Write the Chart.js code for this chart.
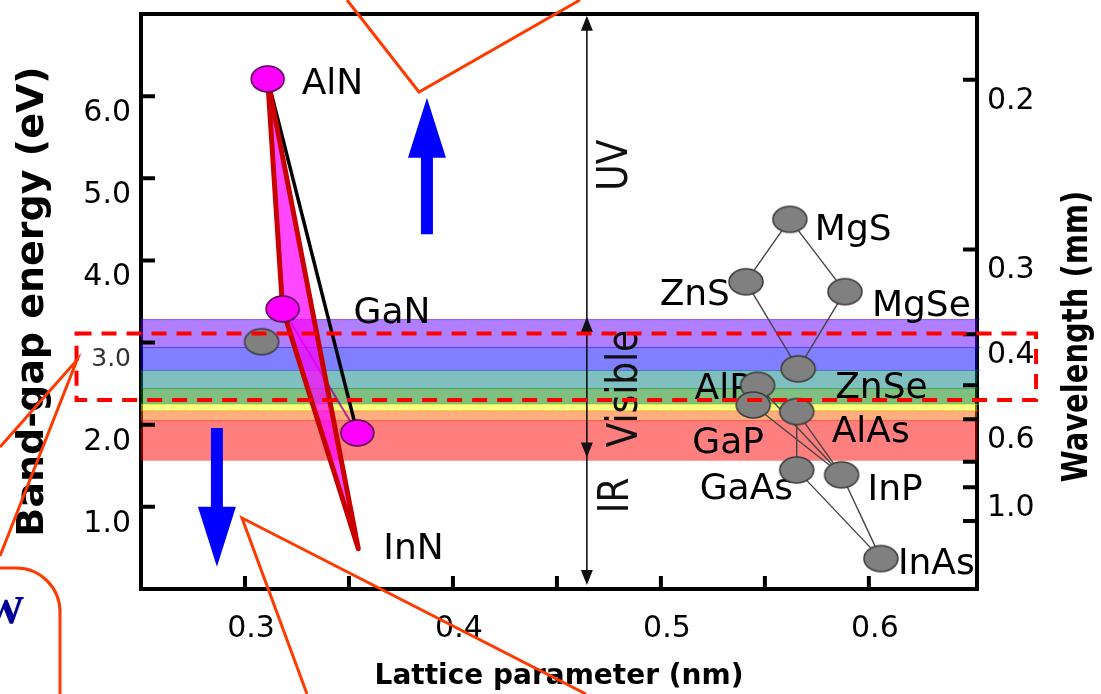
<!DOCTYPE html>
<html>
<head>
<meta charset="utf-8">
<script src="https://cdn.jsdelivr.net/npm/chart.js@4.4.0/dist/chart.umd.min.js"></script>
<style>
  html, body { margin: 0; padding: 0; background: #fff; }
  canvas { display: block; }
</style>
</head>
<body>
<canvas id="gapChart" width="1101" height="694"></canvas>
<script>
// ---- data ----
const nitrideNames = ['AlN', 'GaN', 'InN'];
const nitrideLattice = [0.3109, 0.3181, 0.3540];
const nitrideGap = [6.21, 3.41, 1.90];
// revised InN gap, where the red lines end
const inNLattice = 0.3545;
const inNGap = 0.49;

const compoundNames = ['MgS', 'ZnS', 'MgSe', 'ZnSe', 'AlP', 'GaP', 'AlAs', 'GaAs', 'InP', 'InAs'];
const compoundLattice = [0.5620, 0.5409, 0.5885, 0.5660, 0.5465, 0.5444, 0.5653, 0.5653, 0.5869, 0.6058];
const compoundGap = [4.50, 3.74, 3.62, 2.68, 2.48, 2.24, 2.16, 1.45, 1.39, 0.37];

// unlabelled grey point next to GaN
const sicLattice = [0.3080];
const sicGap = [3.01];

const alloyLinks = [
  ['MgS', 'ZnS'], ['MgS', 'MgSe'], ['ZnS', 'ZnSe'], ['MgSe', 'ZnSe'],
  ['AlP', 'InP'], ['GaP', 'InP'], ['AlAs', 'InP'], ['AlAs', 'GaAs'],
  ['GaAs', 'InAs'], ['InP', 'InAs']
];

// visible spectrum bands (eV)
const bandTop = [3.28, 2.94, 2.66, 2.44, 2.25, 2.17, 2.05];
const bandBottom = [2.94, 2.66, 2.44, 2.25, 2.17, 2.05, 1.56];
const bandColors = ['96,0,255', '0,0,255', '0,128,128', '0,128,0', '255,255,0', '255,96,0', '255,0,0'];

// axes
const latticeTicks = [0.3, 0.35, 0.4, 0.45, 0.5, 0.55, 0.6];
const latticeLabels = [0.3, 0.4, 0.5, 0.6];
const energyTicks = [1, 2, 3, 4, 5, 6];
const wavelengthTicks = [0.2, 0.3, 0.4, 0.5, 0.6, 0.8, 1.0, 1.5];
const wavelengthLabels = [0.2, 0.3, 0.4, 0.6, 1.0];

// ---- placement / style ----
const FONT = 'DejaVu Sans';
const X_MIN = 0.25, X_MAX = 0.652;

// [dx px, dy px, align] of each name from its point
const labelPlace = {
  AlN: [34, 6, 'left'], GaN: [71, 5, 'left'], InN: [25, 1, 'left'],
  MgS: [25, 11, 'left'], ZnS: [-16, 14, 'right'], MgSe: [27, 15, 'left'], ZnSe: [37, 20, 'left'],
  AlP: [-63, 4, 'left'], GaP: [-61, 39, 'left'], AlAs: [35, 21, 'left'], GaAs: [-97, 20, 'left'],
  InP: [26, 16, 'left'], InAs: [17, 6, 'left']
};

const rangeArrowX = 0.4644;
const rangeNames = ['UV', 'Visible', 'IR'];
const rangeTextE = [5.16, 2.44, 1.14];
const rangeTextDx = [29, 39, 30];

const blueArrows = [
  { x: 0.3875, from: 4.32, to: 5.98 },
  { x: 0.2865, from: 1.96, to: 0.27 }
];

const dashBox = { x0: 0.219, x1: 0.6804, top: 3.11, bottom: 2.30 };

function ellipseMarker(fill, stroke, w, h) {
  const c = document.createElement('canvas');
  c.width = w + 4; c.height = h + 4;
  const g = c.getContext('2d');
  g.beginPath();
  g.ellipse(c.width / 2, c.height / 2, w / 2, h / 2, 0, 0, Math.PI * 2);
  g.fillStyle = fill; g.fill();
  g.lineWidth = 1.5; g.strokeStyle = stroke; g.stroke();
  return c;
}
const greyDot = ellipseMarker('#808080', '#3a3a3a', 34, 26);
const pinkDot = ellipseMarker('#ff00ff', '#4a004a', 33, 26);

const pt = (x, y) => ({ x, y });
const nit = i => pt(nitrideLattice[i], nitrideGap[i]);
const comp = name => { const i = compoundNames.indexOf(name); return pt(compoundLattice[i], compoundGap[i]); };
const inNLow = pt(inNLattice, inNGap);

// ---- datasets ----
const datasets = [];

bandTop.forEach((top, i) => {
  datasets.push({
    type: 'line', isBand: true, order: 100,
    data: [pt(0.24, top), pt(0.66, top)],
    fill: { value: bandBottom[i] },
    backgroundColor: 'rgba(' + bandColors[i] + ',0.5)',
    borderColor: 'rgba(' + bandColors[i] + ',0.55)',
    borderWidth: 1, pointRadius: 0,
    clip: { left: 0, top: 0, right: 3, bottom: 0 }
  });
});

// nitride triangle: AlN - GaN - InN(new)
datasets.push({
  type: 'line', order: 50,
  data: [nit(0), nit(1), inNLow, nit(0)],
  fill: 'shape',
  backgroundColor: 'rgba(255,0,255,0.72)',
  borderColor: '#c80000', borderWidth: 5, borderJoinStyle: 'round',
  pointRadius: 0
});
datasets.push({
  type: 'line', order: 55,
  data: [nit(0), nit(2)],
  borderColor: '#000', borderWidth: 3.5, pointRadius: 0
});
datasets.push({
  type: 'line', order: 54,
  data: [nit(1), nit(2)],
  borderColor: 'rgba(150,0,150,0.8)', borderWidth: 2, pointRadius: 0
});

alloyLinks.forEach(([a, b]) => {
  datasets.push({
    type: 'line', order: 40,
    data: [comp(a), comp(b)],
    borderColor: '#444', borderWidth: 1.4, pointRadius: 0
  });
});

datasets.push({
  type: 'scatter', order: 30,
  data: sicLattice.map((x, i) => pt(x, sicGap[i])),
  pointStyle: greyDot, pointRadius: 13
});
datasets.push({
  type: 'scatter', order: 20,
  data: compoundLattice.map((x, i) => pt(x, compoundGap[i])),
  pointStyle: greyDot, pointRadius: 13
});
datasets.push({
  type: 'scatter', order: 10,
  data: nitrideLattice.map((x, i) => pt(x, nitrideGap[i])),
  pointStyle: pinkDot, pointRadius: 13
});

// ---- drawing helpers ----
function toPx(chart, x, y) {
  return [chart.scales.x.getPixelForValue(x), chart.scales.y.getPixelForValue(y)];
}

function drawNames(chart) {
  const { ctx, chartArea: a } = chart;
  ctx.save();
  ctx.beginPath(); ctx.rect(a.left, a.top, a.right - a.left, a.bottom - a.top); ctx.clip();
  ctx.font = '36px "' + FONT + '"';
  ctx.fillStyle = '#000';
  ctx.textBaseline = 'middle';
  const put = (name, p) => {
    const [dx, dy, align] = labelPlace[name];
    const [px, py] = toPx(chart, p.x, p.y);
    ctx.textAlign = align;
    ctx.fillText(name, px + dx, py + dy);
  };
  put('AlN', nit(0));
  put('GaN', nit(1));
  put('InN', inNLow);
  compoundNames.forEach(n => put(n, comp(n)));
  ctx.restore();
}

function arrowHead(ctx, x, y, dir) {
  // dir -1 = up, +1 = down
  ctx.beginPath();
  ctx.moveTo(x, y);
  ctx.lineTo(x - 6, y - dir * 15);
  ctx.lineTo(x + 6, y - dir * 15);
  ctx.closePath();
  ctx.fill();
}

function drawRanges(chart) {
  const { ctx } = chart;
  const [x, yTop] = toPx(chart, rangeArrowX, 6.98);
  const yVisTop = chart.scales.y.getPixelForValue(3.31);
  const yVisBot = chart.scales.y.getPixelForValue(1.60);
  const yBot = chart.scales.y.getPixelForValue(0.05);
  ctx.save();
  ctx.strokeStyle = '#111'; ctx.fillStyle = '#111'; ctx.lineWidth = 1.6;
  ctx.beginPath(); ctx.moveTo(x, yTop + 4); ctx.lineTo(x, yBot - 4); ctx.stroke();
  arrowHead(ctx, x, yTop, -1);
  arrowHead(ctx, x, yVisTop, -1);
  arrowHead(ctx, x, yVisBot, 1);
  arrowHead(ctx, x, yBot, 1);
  ctx.font = '36px "' + FONT + '"';
  ctx.textAlign = 'center'; ctx.textBaseline = 'middle';
  rangeNames.forEach((name, i) => {
    const y = chart.scales.y.getPixelForValue(rangeTextE[i]);
    ctx.save();
    ctx.translate(x + rangeTextDx[i], y);
    ctx.scale(1.2, 1);
    ctx.rotate(-Math.PI / 2);
    ctx.fillText(name, 0, 0);
    ctx.restore();
  });
  ctx.restore();
}

function drawBlueArrows(chart) {
  const { ctx } = chart;
  ctx.save();
  ctx.fillStyle = '#0000ff';
  blueArrows.forEach(ar => {
    const [x, yFrom] = toPx(chart, ar.x, ar.from);
    const yTo = chart.scales.y.getPixelForValue(ar.to);
    const dir = yTo < yFrom ? -1 : 1;
    const base = yTo - dir * 60;
    ctx.beginPath();
    ctx.moveTo(x - 6, yFrom);
    ctx.lineTo(x - 6, base);
    ctx.lineTo(x - 19, base);
    ctx.lineTo(x, yTo);
    ctx.lineTo(x + 19, base);
    ctx.lineTo(x + 6, base);
    ctx.lineTo(x + 6, yFrom);
    ctx.closePath();
    ctx.fill();
  });
  ctx.restore();
}

function drawDashBox(chart) {
  const { ctx } = chart;
  const [x0, y0] = toPx(chart, dashBox.x0, dashBox.top);
  const [x1, y1] = toPx(chart, dashBox.x1, dashBox.bottom);
  ctx.save();
  ctx.strokeStyle = '#ff0000'; ctx.lineWidth = 4;
  ctx.setLineDash([15, 10]);
  ctx.strokeRect(x0, y0, x1 - x0, y1 - y0);
  ctx.restore();
}

function drawTicks(chart) {
  const { ctx, chartArea: a } = chart;
  ctx.save();
  ctx.strokeStyle = '#000'; ctx.lineWidth = 4;
  ctx.beginPath();
  chart.scales.x.ticks.forEach(t => {
    const p = chart.scales.x.getPixelForValue(t.value);
    ctx.moveTo(p, a.bottom); ctx.lineTo(p, a.bottom - 13);
  });
  chart.scales.y.ticks.forEach(t => {
    const p = chart.scales.y.getPixelForValue(t.value);
    ctx.moveTo(a.left, p); ctx.lineTo(a.left + 14, p);
  });
  chart.scales.y2.ticks.forEach(t => {
    const p = chart.scales.y2.getPixelForValue(t.value);
    ctx.moveTo(a.right, p); ctx.lineTo(a.right - 14, p);
  });
  ctx.stroke();
  ctx.restore();
}

function drawCallouts(chart) {
  const { ctx, chartArea: a } = chart;
  ctx.save();
  // right axis title
  ctx.fillStyle = '#000';
  ctx.font = 'bold 29px "' + FONT + '"';
  ctx.textAlign = 'center'; ctx.textBaseline = 'middle';
  ctx.translate(a.right + 101, (a.top + a.bottom) / 2 + 35);
  ctx.scale(1.2, 1);
  ctx.rotate(-Math.PI / 2);
  ctx.fillText('Wavelength (mm)', 0, 0);
  ctx.restore();

  ctx.save();
  ctx.strokeStyle = '#ff3a00'; ctx.lineWidth = 3; ctx.lineJoin = 'miter';
  const paths = [
    [[347, 0], [419, 92], [580, 0]],
    [[307, 694], [242, 518], [586, 694]],
    [[0, 447], [77, 360], [0, 556]]
  ];
  paths.forEach(p => {
    ctx.beginPath();
    ctx.moveTo(p[0][0], p[0][1]);
    p.slice(1).forEach(q => ctx.lineTo(q[0], q[1]));
    ctx.stroke();
  });
  ctx.beginPath();
  ctx.moveTo(-4, 568);
  ctx.arcTo(60, 568, 60, 700, 44);
  ctx.lineTo(60, 700);
  ctx.lineTo(-4, 700);
  ctx.closePath();
  ctx.fillStyle = '#fff';
  ctx.fill();
  ctx.beginPath();
  ctx.moveTo(-4, 568);
  ctx.arcTo(60, 568, 60, 700, 44);
  ctx.lineTo(60, 700);
  ctx.stroke();
  ctx.fillStyle = '#000099';
  ctx.font = 'bold 56px "Liberation Serif"';
  ctx.textAlign = 'right'; ctx.textBaseline = 'alphabetic';
  ctx.fillText('w', 24, 623);
  ctx.restore();
}

let namesDrawn = false;
const decor = {
  id: 'decor',
  beforeDatasetsDraw(chart) {
    namesDrawn = false;
    const { ctx, chartArea: a } = chart;
    ctx.save();
    ctx.strokeStyle = '#000'; ctx.lineWidth = 4;
    ctx.strokeRect(a.left, a.top, a.right - a.left, a.bottom - a.top);
    ctx.restore();
  },
  beforeDatasetDraw(chart, args) {
    if (namesDrawn || chart.data.datasets[args.index].isBand) return;
    namesDrawn = true;
    drawNames(chart);
  },
  afterDatasetsDraw(chart) {
    drawTicks(chart);
    drawRanges(chart);
    drawBlueArrows(chart);
    drawDashBox(chart);
  },
  afterDraw(chart) {
    drawCallouts(chart);
  }
};

function noPad(s) { s.paddingTop = 0; s.paddingBottom = 0; s.paddingLeft = 0; s.paddingRight = 0; }

new Chart(document.getElementById('gapChart'), {
  type: 'scatter',
  data: { datasets: datasets },
  plugins: [decor],
  options: {
    responsive: false,
    animation: false,
    layout: { padding: { top: 13, left: 0, right: 0, bottom: 0 } },
    plugins: { legend: { display: false }, tooltip: { enabled: false } },
    scales: {
      x: {
        type: 'linear', position: 'bottom', min: X_MIN, max: X_MAX,
        grid: { display: false, drawTicks: false }, border: { display: false },
        afterBuildTicks: s => { s.ticks = latticeTicks.map(v => ({ value: v })); },
        ticks: {
          autoSkip: false, maxRotation: 0, padding: 22, labelOffset: 6, color: '#000',
          font: { family: FONT, size: 30 },
          callback: v => latticeLabels.includes(v) ? v.toFixed(1) : ''
        },
        title: {
          display: true, text: 'Lattice parameter (nm)', color: '#000',
          font: { family: FONT, size: 28, weight: 'bold' }, padding: { top: 0, bottom: 0 }
        },
        afterFit: s => { s.height = 105; noPad(s); }
      },
      y: {
        type: 'linear', position: 'left', min: 0, max: 7,
        grid: { display: false, drawTicks: false }, border: { display: false },
        afterBuildTicks: s => { s.ticks = energyTicks.map(v => ({ value: v })); },
        ticks: {
          autoSkip: false, padding: 10, labelOffset: 17,
          color: c => c.tick && c.tick.value === 3 ? '#333' : '#000',
          font: c => c.tick && c.tick.value === 3 ? { family: FONT, size: 25 } : { family: FONT, size: 30 },
          callback: v => v.toFixed(1)
        },
        title: {
          display: true, text: 'Band-gap energy (eV)', color: '#000',
          font: { family: FONT, size: 38, weight: 'bold' }, padding: { top: 10, bottom: 0 }
        },
        afterFit: s => { s.width = 141; noPad(s); }
      },
      y2: {
        type: 'linear', position: 'right', min: 0, max: 7,
        grid: { display: false, drawTicks: false }, border: { display: false },
        afterBuildTicks: s => { s.ticks = wavelengthTicks.map(l => ({ value: 1.24 / l })); },
        ticks: {
          autoSkip: false, padding: 10, labelOffset: 21, color: '#000',
          font: { family: FONT, size: 30 },
          callback: (v, i) => wavelengthLabels.includes(wavelengthTicks[i]) ? wavelengthTicks[i].toFixed(1) : ''
        },
        afterFit: s => { s.width = 124; noPad(s); }
      }
    }
  }
});
</script>
</body>
</html>
